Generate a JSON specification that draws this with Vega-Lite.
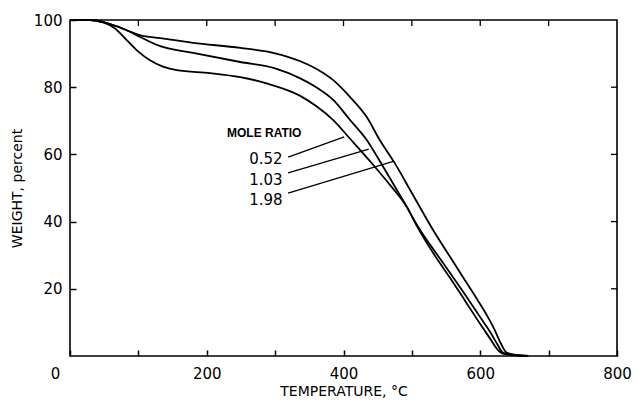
{
  "$schema": "https://vega.github.io/schema/vega-lite/v6.json",
  "width": 547,
  "height": 336,
  "autosize": {"type": "none"},
  "padding": {"left": 70, "top": 20, "right": 20, "bottom": 49},
  "background": "white",
  "config": {
    "view": {"stroke": "black", "strokeWidth": 1.6},
    "axis": {
      "domain": false,
      "grid": false,
      "ticks": true,
      "tickSize": 6,
      "tickWidth": 1.5,
      "tickColor": "black",
      "offset": -6,
      "zindex": 2,
      "labelFlush": false,
      "labelColor": "black",
      "titleColor": "black",
      "labelFont": "DejaVu Sans",
      "titleFont": "DejaVu Sans",
      "labelFontSize": 15,
      "titleFontSize": 14,
      "titleFontWeight": "normal"
    }
  },
  "datasets": {
    "curves": [
      {"T": 0, "W": 100, "ratio": "1.98"}, {"T": 30, "W": 100, "ratio": "1.98"}, {"T": 50, "W": 99.3, "ratio": "1.98"}, {"T": 70, "W": 98, "ratio": "1.98"}, {"T": 90, "W": 96.4, "ratio": "1.98"}, {"T": 102, "W": 95.5, "ratio": "1.98"}, {"T": 132, "W": 94.6, "ratio": "1.98"}, {"T": 180, "W": 93.2, "ratio": "1.98"}, {"T": 249, "W": 91.7, "ratio": "1.98"}, {"T": 300, "W": 90.1, "ratio": "1.98"}, {"T": 336, "W": 87.8, "ratio": "1.98"}, {"T": 360, "W": 85.5, "ratio": "1.98"}, {"T": 385, "W": 82.1, "ratio": "1.98"}, {"T": 410, "W": 77, "ratio": "1.98"}, {"T": 434, "W": 71.1, "ratio": "1.98"}, {"T": 453, "W": 64.3, "ratio": "1.98"}, {"T": 475, "W": 57.4, "ratio": "1.98"}, {"T": 500, "W": 48.5, "ratio": "1.98"}, {"T": 531, "W": 37.5, "ratio": "1.98"}, {"T": 560, "W": 28.2, "ratio": "1.98"}, {"T": 580, "W": 21.8, "ratio": "1.98"}, {"T": 596, "W": 16.7, "ratio": "1.98"}, {"T": 610, "W": 12, "ratio": "1.98"}, {"T": 620, "W": 8.2, "ratio": "1.98"}, {"T": 630, "W": 3.8, "ratio": "1.98"}, {"T": 638, "W": 1.1, "ratio": "1.98"}, {"T": 650, "W": 0.4, "ratio": "1.98"}, {"T": 670, "W": 0, "ratio": "1.98"},
      {"T": 0, "W": 100, "ratio": "1.03"}, {"T": 30, "W": 100, "ratio": "1.03"}, {"T": 50, "W": 99.3, "ratio": "1.03"}, {"T": 70, "W": 98, "ratio": "1.03"}, {"T": 90, "W": 96.3, "ratio": "1.03"}, {"T": 102, "W": 95, "ratio": "1.03"}, {"T": 132, "W": 92.2, "ratio": "1.03"}, {"T": 180, "W": 90.2, "ratio": "1.03"}, {"T": 249, "W": 87.5, "ratio": "1.03"}, {"T": 300, "W": 85.6, "ratio": "1.03"}, {"T": 336, "W": 82.7, "ratio": "1.03"}, {"T": 360, "W": 80, "ratio": "1.03"}, {"T": 385, "W": 76.2, "ratio": "1.03"}, {"T": 409, "W": 70.4, "ratio": "1.03"}, {"T": 434, "W": 64.3, "ratio": "1.03"}, {"T": 458, "W": 56.3, "ratio": "1.03"}, {"T": 485, "W": 47, "ratio": "1.03"}, {"T": 512, "W": 37.5, "ratio": "1.03"}, {"T": 540, "W": 29.3, "ratio": "1.03"}, {"T": 560, "W": 23.5, "ratio": "1.03"}, {"T": 583, "W": 16.7, "ratio": "1.03"}, {"T": 600, "W": 11.5, "ratio": "1.03"}, {"T": 615, "W": 7, "ratio": "1.03"}, {"T": 625, "W": 3.5, "ratio": "1.03"}, {"T": 633, "W": 1, "ratio": "1.03"}, {"T": 645, "W": 0.4, "ratio": "1.03"}, {"T": 670, "W": 0, "ratio": "1.03"},
      {"T": 0, "W": 100, "ratio": "0.52"}, {"T": 30, "W": 100, "ratio": "0.52"}, {"T": 50, "W": 99.2, "ratio": "0.52"}, {"T": 65, "W": 97.6, "ratio": "0.52"}, {"T": 83, "W": 94, "ratio": "0.52"}, {"T": 100, "W": 90.6, "ratio": "0.52"}, {"T": 117, "W": 88, "ratio": "0.52"}, {"T": 135, "W": 86.2, "ratio": "0.52"}, {"T": 156, "W": 85.1, "ratio": "0.52"}, {"T": 205, "W": 84.2, "ratio": "0.52"}, {"T": 249, "W": 83, "ratio": "0.52"}, {"T": 290, "W": 81, "ratio": "0.52"}, {"T": 336, "W": 77.5, "ratio": "0.52"}, {"T": 360, "W": 74.4, "ratio": "0.52"}, {"T": 385, "W": 70.2, "ratio": "0.52"}, {"T": 409, "W": 64.8, "ratio": "0.52"}, {"T": 443, "W": 57, "ratio": "0.52"}, {"T": 470, "W": 50.4, "ratio": "0.52"}, {"T": 493, "W": 44.3, "ratio": "0.52"}, {"T": 507, "W": 38.8, "ratio": "0.52"}, {"T": 530, "W": 31, "ratio": "0.52"}, {"T": 555, "W": 23.5, "ratio": "0.52"}, {"T": 577, "W": 16.7, "ratio": "0.52"}, {"T": 600, "W": 9.5, "ratio": "0.52"}, {"T": 615, "W": 5, "ratio": "0.52"}, {"T": 625, "W": 2, "ratio": "0.52"}, {"T": 632, "W": 0.8, "ratio": "0.52"}, {"T": 645, "W": 0.3, "ratio": "0.52"}, {"T": 670, "W": 0, "ratio": "0.52"}
    ],
    "segments": [
      {"T": 319, "W": 59.2, "T2": 401, "W2": 65.2},
      {"T": 319, "W": 54.5, "T2": 437, "W2": 61.6},
      {"T": 319, "W": 48.5, "T2": 474, "W2": 58.0},
      {"T": 100, "W": 100, "T2": 100, "W2": 98.2}, {"T": 200, "W": 100, "T2": 200, "W2": 98.2}, {"T": 300, "W": 100, "T2": 300, "W2": 98.2}, {"T": 400, "W": 100, "T2": 400, "W2": 98.2}, {"T": 500, "W": 100, "T2": 500, "W2": 98.2}, {"T": 600, "W": 100, "T2": 600, "W2": 98.2}, {"T": 700, "W": 100, "T2": 700, "W2": 98.2},
      {"T": 800, "W": 20, "T2": 791.2, "W2": 20}, {"T": 800, "W": 40, "T2": 791.2, "W2": 40}, {"T": 800, "W": 60, "T2": 791.2, "W2": 60}, {"T": 800, "W": 80, "T2": 791.2, "W2": 80}
    ],
    "labels": [
      {"T": 311, "W": 58.6, "text": "0.52"},
      {"T": 311, "W": 52.4, "text": "1.03"},
      {"T": 311, "W": 46.4, "text": "1.98"}
    ],
    "heading": [
      {"T": 284, "W": 66.4, "text": "MOLE RATIO"}
    ]
  },
  "encoding": {
    "x": {
      "field": "T", "type": "quantitative",
      "scale": {"domain": [0, 800], "nice": false},
      "axis": {
        "orient": "bottom",
        "values": [0, 100, 200, 300, 400, 500, 600, 700, 800],
        "labelExpr": "datum.value % 200 == 0 ? datum.label : ''",
        "labelPadding": 10,
        "labelOffset": {"condition": {"test": "datum.value == 0", "value": -15}, "value": 0},
        "title": "TEMPERATURE, °C",
        "titlePadding": 3
      }
    },
    "y": {
      "field": "W", "type": "quantitative",
      "scale": {"domain": [0, 100], "nice": false},
      "axis": {
        "orient": "left",
        "values": [20, 40, 60, 80, 100],
        "labelPadding": 8,
        "title": "WEIGHT, percent",
        "titlePadding": 9
      }
    }
  },
  "layer": [
    {
      "data": {"name": "curves"},
      "mark": {"type": "line", "color": "black", "strokeWidth": 1.8, "interpolate": "monotone"},
      "encoding": {
        "detail": {"field": "ratio"}
      }
    },
    {
      "data": {"name": "segments"},
      "mark": {"type": "rule", "color": "black", "strokeWidth": 1.3},
      "encoding": {
        "x2": {"field": "T2"},
        "y2": {"field": "W2"}
      }
    },
    {
      "data": {"name": "labels"},
      "mark": {"type": "text", "align": "right", "baseline": "middle", "font": "DejaVu Sans", "fontSize": 15, "color": "black"},
      "encoding": {
        "text": {"field": "text"}
      }
    },
    {
      "data": {"name": "heading"},
      "mark": {"type": "text", "align": "center", "baseline": "middle", "font": "Liberation Sans", "fontWeight": "bold", "fontSize": 12, "color": "black"},
      "encoding": {
        "text": {"field": "text"}
      }
    }
  ]
}
